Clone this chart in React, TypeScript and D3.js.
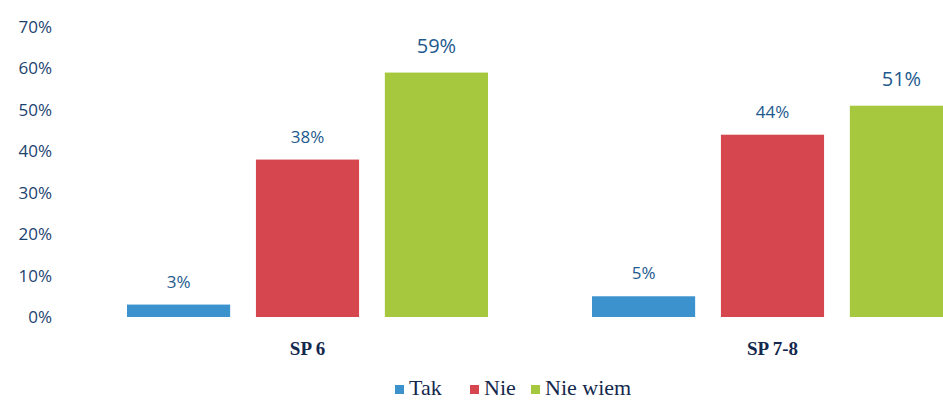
import React from "react";
import * as d3 from "d3";

const categories = ["SP 6", "SP 7-8"];
const seriesNames = ["Tak", "Nie", "Nie wiem"];
const takValues = [3, 5];
const nieValues = [38, 44];
const nieWiemValues = [59, 51];
const yTicks = [0, 10, 20, 30, 40, 50, 60, 70];

const colors = ["#3c92cc", "#d6464e", "#a6c83e"];
const serif = "'Liberation Serif', 'DejaVu Serif', serif";
const sans = "'Open Sans', 'Noto Sans', sans-serif";

export default function App() {
  const W = 943, H = 400;
  const series = [takValues, nieValues, nieWiemValues];
  const x0 = d3.scaleBand<string>().domain(categories).range([75, 1005]).paddingInner(0).paddingOuter(0);
  const x1 = d3.scaleBand<string>().domain(seriesNames).range([52, x0.bandwidth() - 52]).paddingInner(0.2);
  const y = d3.scaleLinear().domain([0, 70]).range([317, 27]);
  const legendX = [395, 470, 531];

  return (
    <svg width={W} height={H} style={{ position: "absolute", left: 0, top: 0, background: "#fff" }}>
      <defs>
        <clipPath id="clip"><rect x={0} y={0} width={W} height={H} /></clipPath>
      </defs>
      <g>
        {yTicks.map(t => (
          <text key={t} x={52} y={y(t)} dy="0.35em" textAnchor="end" fontFamily={sans} fontSize={17} fill="#1b436f">{t}%</text>
        ))}
      </g>
      <g clipPath="url(#clip)">
        {categories.map((c, ci) => (
          <g key={c} transform={`translate(${x0(c)},0)`}>
            {seriesNames.map((s, si) => {
              const v = series[si][ci];
              const bx = x1(s)!;
              const bw = x1.bandwidth();
              return (
                <g key={s}>
                  <rect x={bx} y={y(v)} width={bw} height={y(0) - y(v)} fill={colors[si]} />
                  <text x={bx + bw / 2} y={y(v) - (si === 2 ? 20 : 17)} textAnchor="middle"
                    fontFamily={sans} fontSize={si === 2 ? 20 : 17} fill="#1d5a8e">{v}%</text>
                </g>
              );
            })}
            <text x={x0.bandwidth() / 2} y={355} textAnchor="middle" fontFamily={serif}
              fontWeight="bold" fontSize={19} fill="#14284d">{c}</text>
          </g>
        ))}
      </g>
      <g>
        {seriesNames.map((s, i) => {
          const lx = legendX[i];
          return (
            <g key={s}>
              <rect x={lx} y={385} width={9} height={9} fill={colors[i]} />
              <text x={lx + 14} y={395} style={{ fontFamily: serif, fontSize: "22px" }} fill="#14284d">{s}</text>
            </g>
          );
        })}
      </g>
    </svg>
  );
}
